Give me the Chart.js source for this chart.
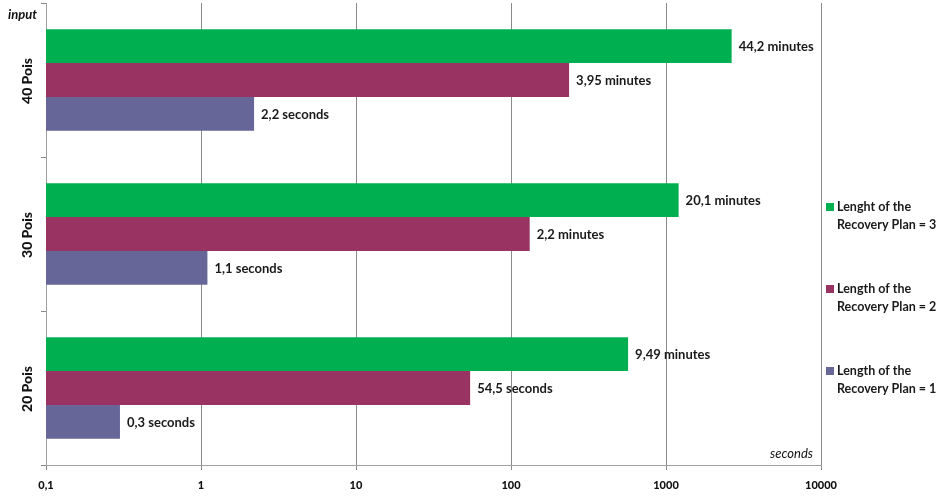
<!DOCTYPE html>
<html>
<head>
<meta charset="utf-8">
<script src="https://cdn.jsdelivr.net/npm/chart.js@4/dist/chart.umd.min.js"></script>
<style>
  html, body { margin: 0; padding: 0; background: #fff; }
  #wrap { width: 940px; height: 498px; }
</style>
</head>
<body>
<div id="wrap"><canvas id="chart" width="940" height="498"></canvas></div>
<script>
// categories, top to bottom as drawn
const categories = ['40 Pois', '30 Pois', '20 Pois'];

// series values in seconds
const plan3Seconds = [2652, 1206, 569.4];
const plan2Seconds = [237, 132, 54.5];
const plan1Seconds = [2.2, 1.1, 0.3];

// text written at the end of each bar
const plan3Labels = ['44,2 minutes', '20,1 minutes', '9,49 minutes'];
const plan2Labels = ['3,95 minutes', '2,2 minutes', '54,5 seconds'];
const plan1Labels = ['2,2 seconds', '1,1 seconds', '0,3 seconds'];

const seriesNames = [
  ['Lenght of the', 'Recovery Plan = 3'],
  ['Length of the', 'Recovery Plan = 2'],
  ['Length of the', 'Recovery Plan = 1']
];
const seriesColors = ['#00b050', '#993361', '#666699'];

const tickValues = [0.1, 1, 10, 100, 1000, 10000];
const tickLabels = ['0,1', '1', '10', '100', '1000', '10000'];

const FONT = 'Lato, "Open Sans", sans-serif';

const barLabels = {
  id: 'barLabels',
  afterDatasetsDraw(chart) {
    const ctx = chart.ctx;
    const texts = [plan3Labels, plan2Labels, plan1Labels];
    ctx.save();
    ctx.font = 'bold 13px ' + FONT;
    ctx.fillStyle = '#1a1a1a';
    ctx.textBaseline = 'middle';
    ctx.textAlign = 'left';
    chart.data.datasets.forEach((ds, i) => {
      chart.getDatasetMeta(i).data.forEach((bar, j) => {
        ctx.fillText(texts[i][j], bar.x + 7, bar.y + 1);
      });
    });
    ctx.restore();
  }
};

const extras = {
  id: 'extras',
  afterDraw(chart) {
    const ctx = chart.ctx;
    const y = chart.scales.y;
    const area = chart.chartArea;
    ctx.save();
    ctx.fillStyle = '#111';
    // rotated category labels
    ctx.font = '900 14px ' + FONT;
    ctx.textAlign = 'center';
    ctx.textBaseline = 'middle';
    categories.forEach((c, i) => {
      ctx.save();
      ctx.translate(27, y.getPixelForValue(i) + 1);
      ctx.rotate(-Math.PI / 2);
      ctx.fillText(c, 0, 0);
      ctx.restore();
    });
    // axis titles
    ctx.font = 'italic bold 13px ' + FONT;
    ctx.textAlign = 'left';
    ctx.fillText('input', 8, 15);
    ctx.font = 'italic 13px ' + FONT;
    ctx.textAlign = 'right';
    ctx.fillText('seconds', area.right - 8, area.bottom - 11);
    // legend
    ctx.font = 'bold 12.5px ' + FONT;
    ctx.textAlign = 'left';
    seriesNames.forEach((lines, i) => {
      const top = 207 + i * 82;
      ctx.fillStyle = seriesColors[i];
      ctx.fillRect(826, top - 4, 8, 8);
      ctx.fillStyle = '#1a1a1a';
      lines.forEach((t, k) => ctx.fillText(t, 837, top + k * 18));
    });
    ctx.restore();
  }
};

new Chart(document.getElementById('chart'), {
  type: 'bar',
  data: {
    labels: categories,
    datasets: [
      { label: seriesNames[0].join(' '), data: plan3Seconds, backgroundColor: seriesColors[0] },
      { label: seriesNames[1].join(' '), data: plan2Seconds, backgroundColor: seriesColors[1] },
      { label: seriesNames[2].join(' '), data: plan1Seconds, backgroundColor: seriesColors[2] }
    ]
  },
  options: {
    indexAxis: 'y',
    responsive: false,
    animation: false,
    devicePixelRatio: 1,
    categoryPercentage: 0.66,
    barPercentage: 1,
    layout: { padding: { top: 3, right: 119, bottom: 0, left: 0 } },
    scales: {
      x: {
        type: 'logarithmic',
        min: 0.1,
        max: 10000,
        afterBuildTicks(scale) {
          scale.ticks = tickValues.map(v => ({ value: v }));
        },
        afterFit(scale) { scale.height = 33; },
        ticks: {
          autoSkip: false,
          maxRotation: 0,
          padding: 9,
          color: '#111',
          font: { family: FONT, size: 11, weight: '900' },
          callback: (v) => tickLabels[tickValues.indexOf(v)]
        },
        grid: { color: '#8a8a8a', lineWidth: 1, tickLength: 5 },
        border: { color: '#a0a0a0' }
      },
      y: {
        type: 'category',
        ticks: { display: false },
        afterFit(scale) { scale.width = 46; },
        grid: { drawOnChartArea: false, color: '#8a8a8a', tickLength: 5, offset: true },
        border: { color: '#a0a0a0' }
      }
    },
    plugins: {
      legend: { display: false },
      tooltip: { enabled: false }
    }
  },
  plugins: [barLabels, extras]
});
</script>
</body>
</html>
